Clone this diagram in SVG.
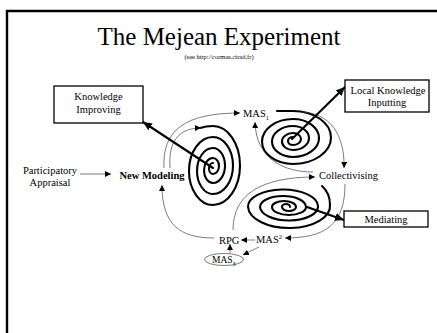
<svg xmlns="http://www.w3.org/2000/svg" width="437" height="333" viewBox="0 0 437 333">
<defs>
<style>
text{font-family:"Liberation Serif","Times New Roman",serif;fill:#000}
.lbl{font-size:10.5px}
.thin{fill:none;stroke:#444;stroke-width:0.7}
.thick{fill:none;stroke:#000;stroke-width:2.1;stroke-linecap:round}
.box{fill:#fff;stroke:#000;stroke-width:1.3}
</style>
<marker id="ah" markerUnits="userSpaceOnUse" markerWidth="7" markerHeight="6" refX="6" refY="3" orient="auto"><path d="M0,0 L6,3 L0,6 Z" fill="#000"/></marker>
<marker id="ahb" markerUnits="userSpaceOnUse" markerWidth="10" markerHeight="8" refX="9" refY="4" orient="auto"><path d="M0,0 L9,4 L0,8 Z" fill="#000"/></marker>
</defs>
<rect width="437" height="333" fill="#fff"/>
<path d="M7 333 V11 H437" fill="none" stroke="#000" stroke-width="2.4"/>
<text x="219" y="44.5" text-anchor="middle" style="font-size:25px">The Mejean Experiment</text>
<text x="219" y="59" text-anchor="middle" style="font-size:6.5px">(see http://cormas.cirad.fr)</text>

<g id="spirals">
<path class="thick" d="M200 128 Q206 126 213 126 A27 39.5 0 0 1 213 205 A24 34 0 0 1 213 137 A20 28.5 0 0 1 213 194 A16 23 0 0 1 213 148 A12 17.5 0 0 1 213 183 A9 12.5 0 0 1 213 158 A6 8 0 0 1 213 174 A4 5.5 0 0 1 213 163"/>
<path class="thick" d="M277 111 L293 111 A38 26.5 0 0 1 293 164 A31 22.5 0 0 1 293 119 A26 19 0 0 1 293 157 A21 15.5 0 0 1 293 126 A16 12 0 0 1 293 150 A11 8.5 0 0 1 293 133 A8 6 0 0 1 293 145 A5 4 0 0 1 293 137"/>
<path class="thick" d="M322 186 Q330 193 330 205 A41 22 0 0 1 248 207 A35 17 0 0 1 318 206 A29 14 0 0 1 260 207 A23 11 0 0 1 306 207 A17 8 0 0 1 272 207 A12 6 0 0 1 296 207 A7 4 0 0 1 282 207 A4 3 0 0 1 290 207"/>
</g>

<g id="connectors">
<path class="thin" marker-end="url(#ah)" d="M80 174 L111 174"/>
<path class="thin" marker-end="url(#ah)" d="M164 168 C162 130 185 113 240 113"/>
<path class="thin" marker-end="url(#ah)" d="M170 168 C168 140 180 128 201 128"/>
<path class="thin" marker-end="url(#ah)" d="M300 112 C330 112 345 135 344 168"/>
<path class="thin" marker-end="url(#ah)" d="M313 172 C285 172 256 160 255 122"/>
<path class="thin" marker-end="url(#ah)" d="M345 184 C345 225 325 238 285 238"/>
<path class="thin" marker-end="url(#ah)" d="M255 240 L241 240"/>
<path class="thin" marker-end="url(#ah)" d="M259 247 L243 255"/>
<path class="thin" marker-end="url(#ah)" d="M230 253 L230 244"/>
<path class="thin" marker-end="url(#ah)" d="M214 238 C180 238 162 225 162 185"/>
<path class="thin" marker-end="url(#ah)" d="M233 230 C233 195 260 177 315 177"/>
<path class="thick" marker-end="url(#ahb)" d="M213 168 L143 122"/>
<path class="thick" marker-end="url(#ahb)" d="M292 139 L345 87"/>
<path class="thick" marker-end="url(#ahb)" d="M307 207 L344 220"/>
</g>

<g id="knowledge-improving">
<rect class="box" x="54" y="86" width="89" height="37"/>
<text class="lbl" x="98.5" y="100" text-anchor="middle">Knowledge</text>
<text class="lbl" x="98.5" y="113" text-anchor="middle">Improving</text>
</g>
<g id="local-knowledge-inputting">
<rect class="box" x="345" y="80" width="84" height="32"/>
<text class="lbl" x="388" y="94" text-anchor="middle">Local Knowledge</text>
<text class="lbl" x="387" y="106" text-anchor="middle">Inputting</text>
</g>
<g id="mediating">
<rect class="box" x="344" y="211" width="84" height="16"/>
<text class="lbl" x="386" y="222.5" text-anchor="middle">Mediating</text>
</g>
<g id="participatory-appraisal">
<text class="lbl" x="50" y="173.5" text-anchor="middle">Participatory</text>
<text class="lbl" x="50" y="185.5" text-anchor="middle">Appraisal</text>
</g>
<g id="new-modeling">
<text class="lbl" x="152" y="179" text-anchor="middle" font-weight="bold">New Modeling</text>
</g>
<g id="mas1">
<text class="lbl" x="243" y="117">MAS<tspan dy="2.5" style="font-size:6.5px">1</tspan></text>
</g>
<g id="collectivising">
<text class="lbl" x="319" y="179">Collectivising</text>
</g>
<g id="mas2">
<text class="lbl" x="256" y="243">MAS<tspan dy="-4" style="font-size:6.5px">2</tspan></text>
</g>
<g id="rpg">
<text class="lbl" x="219" y="243.5">RPG</text>
</g>
<g id="mas3">
<ellipse cx="224" cy="259.5" rx="19.5" ry="6" fill="none" stroke="#444" stroke-width="0.7"/>
<text class="lbl" x="212" y="263" style="font-size:9.5px">MAS<tspan dy="2.5" style="font-size:6px">3</tspan></text>
</g>
</svg>
